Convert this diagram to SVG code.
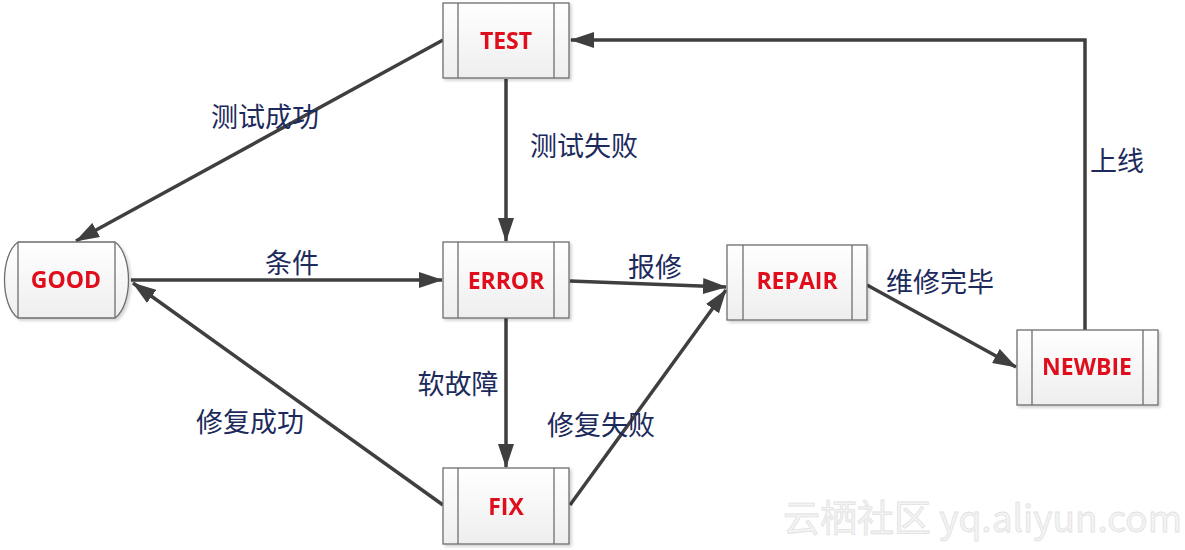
<svg xmlns="http://www.w3.org/2000/svg" width="1185" height="550" viewBox="0 0 1185 550">
<style>
.box{fill:url(#g);stroke:#6e6e6e;stroke-width:1.3}
.in{stroke:#6e6e6e;stroke-width:1.3;fill:none}
.nt{font-family:"Open Sans","Liberation Sans",sans-serif;font-weight:bold;font-size:23px;fill:#e0101a;text-anchor:middle}
.lb{font-family:"Noto Sans CJK SC",sans-serif;font-size:27px;fill:#1c2a5c;text-anchor:middle}
.c{stroke:#3f3f3f;stroke-width:3.5;fill:none;marker-end:url(#a)}
.wm{font-family:"Noto Sans CJK SC",sans-serif;font-size:37px;fill:#f4f4f4;stroke:#e2e2e2;stroke-width:0.8}
</style>
<defs>
<linearGradient id="g" x1="0" y1="0" x2="0" y2="1"><stop offset="0" stop-color="#ffffff"/><stop offset="1" stop-color="#eeeeee"/></linearGradient>
<filter id="s" x="-10%" y="-10%" width="130%" height="130%"><feDropShadow dx="2" dy="2" stdDeviation="1.5" flood-color="#000" flood-opacity="0.18"/></filter>
<marker id="a" viewBox="0 0 24 16" refX="23" refY="8" markerWidth="24" markerHeight="16" markerUnits="userSpaceOnUse" orient="auto"><path d="M0,0 L24,8 L0,16 Z" fill="#3f3f3f"/></marker>
</defs>
<rect width="1185" height="550" fill="#ffffff"/>
<g id="connectors">
<line class="c" x1="443" y1="40" x2="76" y2="241"/>
<line class="c" x1="506" y1="79" x2="506" y2="241"/>
<line class="c" x1="131" y1="280" x2="442" y2="280"/>
<line class="c" x1="570" y1="281" x2="726" y2="287"/>
<line class="c" x1="506" y1="318" x2="506" y2="467"/>
<line class="c" x1="443" y1="505" x2="133" y2="283"/>
<line class="c" x1="570" y1="505" x2="726" y2="290"/>
<line class="c" x1="867" y1="285" x2="1016" y2="367"/>
<polyline class="c" points="1085,330 1085,40 571,40"/>
</g>
<g id="TEST" filter="url(#s)"><rect class="box" x="443" y="3" width="126" height="75"/><line class="in" x1="458" y1="3" x2="458" y2="78"/><line class="in" x1="554" y1="3" x2="554" y2="78"/><text class="nt" x="506" y="49">TEST</text></g>
<g id="GOOD" filter="url(#s)"><path class="box" d="M18,242 H115 C133,255 133,305 115,318 H18 C0,305 0,255 18,242 Z"/><line class="in" x1="18" y1="242" x2="18" y2="318"/><line class="in" x1="115" y1="242" x2="115" y2="318"/><text class="nt" x="66" y="288">GOOD</text></g>
<g id="ERROR" filter="url(#s)"><rect class="box" x="443" y="242" width="126" height="76"/><line class="in" x1="458" y1="242" x2="458" y2="318"/><line class="in" x1="554" y1="242" x2="554" y2="318"/><text class="nt" x="506" y="289">ERROR</text></g>
<g id="REPAIR" filter="url(#s)"><rect class="box" x="727" y="245" width="140" height="75"/><line class="in" x1="743" y1="245" x2="743" y2="320"/><line class="in" x1="852" y1="245" x2="852" y2="320"/><text class="nt" x="797" y="289">REPAIR</text></g>
<g id="NEWBIE" filter="url(#s)"><rect class="box" x="1017" y="330" width="141" height="75"/><line class="in" x1="1032" y1="330" x2="1032" y2="405"/><line class="in" x1="1143" y1="330" x2="1143" y2="405"/><text class="nt" x="1087" y="375">NEWBIE</text></g>
<g id="FIX" filter="url(#s)"><rect class="box" x="443" y="468" width="126" height="76"/><line class="in" x1="458" y1="468" x2="458" y2="544"/><line class="in" x1="554" y1="468" x2="554" y2="544"/><text class="nt" x="506" y="515">FIX</text></g>
<g id="labels">
<text class="lb" x="265" y="127">测试成功</text>
<text class="lb" x="584" y="156">测试失败</text>
<text class="lb" x="292" y="273">条件</text>
<text class="lb" x="655" y="277">报修</text>
<text class="lb" x="940" y="292">维修完毕</text>
<text class="lb" x="1117" y="171">上线</text>
<text class="lb" x="458" y="394">软故障</text>
<text class="lb" x="250" y="432">修复成功</text>
<text class="lb" x="601" y="435">修复失败</text>
</g>
<text class="wm" x="783" y="532">云栖社区 yq.aliyun.com</text>
</svg>
